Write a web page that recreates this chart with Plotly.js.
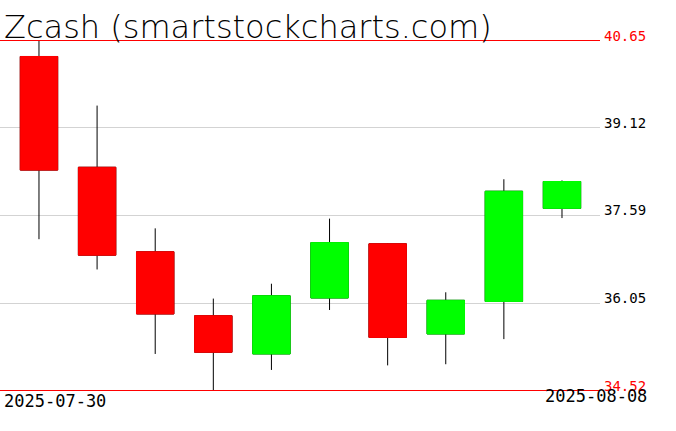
<!DOCTYPE html>
<html>
<head>
<meta charset="utf-8">
<script src="https://cdn.plot.ly/plotly-3.0.1.min.js"></script>
<style>html,body{margin:0;padding:0;background:#fff;}#chart{width:676px;height:431px;}</style>
</head>
<body>
<div id="chart"></div>
<script>
var dates = ["2025-07-30","2025-07-31","2025-08-01","2025-08-02","2025-08-03","2025-08-04","2025-08-05","2025-08-06","2025-08-07","2025-08-08"];
var openVals  = [40.37, 38.43, 36.95, 35.83, 35.16, 36.14, 37.09, 35.51, 36.08, 37.71];
var highVals  = [40.65, 39.51, 37.36, 36.13, 36.39, 37.53, 37.10, 36.24, 38.22, 38.20];
var lowVals   = [37.17, 36.64, 35.16, 34.52, 34.88, 35.93, 34.96, 34.98, 35.42, 37.54];
var closeVals = [38.38, 36.89, 35.86, 35.19, 36.18, 37.11, 35.45, 36.10, 38.01, 38.18];
var tickVals   = [34.52, 36.05, 37.59, 39.12, 40.65];
var tickLabels = ["34.52", "36.05", "37.59", "39.12", "40.65"];
var dateLabels = ["2025-07-30", "2025-08-08"];
var titleText = "Zcash (smartstockcharts.com)";

var bodyHigh = openVals.map(function(o, i){ return Math.max(o, closeVals[i]); });
var bodyLow  = openVals.map(function(o, i){ return Math.min(o, closeVals[i]); });

var wicks = {
  type: 'candlestick', x: dates, open: openVals, high: highVals, low: lowVals, close: closeVals,
  increasing: {line: {color: '#000', width: 1}, fillcolor: '#000'},
  decreasing: {line: {color: '#000', width: 1}, fillcolor: '#000'},
  whiskerwidth: 0, hoverinfo: 'skip', showlegend: false
};
var bodies = {
  type: 'candlestick', x: dates, open: openVals, high: bodyHigh, low: bodyLow, close: closeVals,
  increasing: {line: {color: '#00ff00', width: 1}, fillcolor: '#00ff00'},
  decreasing: {line: {color: '#ff0000', width: 1}, fillcolor: '#ff0000'},
  whiskerwidth: 0, hoverinfo: 'skip', showlegend: false
};

var W = 600, H = 351, T = 40;
var yMin = tickVals[0], yMax = tickVals[tickVals.length - 1];
var s = 350 / (yMax - yMin);
var r0 = yMin - 0.5 / s, r1 = yMax + 0.5 / s;
function py(pix){ return (T + H - pix) / H; }

var annotations = [];
tickVals.forEach(function(v, i){
  var edge = (i === 0 || i === tickVals.length - 1);
  annotations.push({
    xref: 'paper', yref: 'y', x: 1 + 3 / W, y: v, xanchor: 'left', yanchor: 'bottom', yshift: -4,
    text: tickLabels[i], showarrow: false, borderpad: 0,
    font: {family: 'DejaVu Sans Mono', size: 14, color: edge ? '#ff0000' : '#000'}
  });
});
annotations.push({
  xref: 'paper', yref: 'paper', x: 3 / W, y: py(401), xanchor: 'left', yanchor: 'middle',
  text: dateLabels[0], showarrow: false, borderpad: 0,
  font: {family: 'DejaVu Sans Mono', size: 17, color: '#000'}
});
annotations.push({
  xref: 'paper', yref: 'paper', x: 648 / W, y: py(396), xanchor: 'right', yanchor: 'middle',
  text: dateLabels[1], showarrow: false, borderpad: 0,
  font: {family: 'DejaVu Sans Mono', size: 17, color: '#000'}
});
annotations.push({
  xref: 'paper', yref: 'paper', x: 3 / W, y: py(27), xanchor: 'left', yanchor: 'middle',
  text: titleText, showarrow: false, borderpad: 0,
  font: {family: 'DejaVu Sans', weight: 200, size: 32, color: '#000'}
});

var layout = {
  width: 676, height: 431,
  margin: {l: 0, r: 76, t: T, b: 431 - T - H, pad: 0},
  paper_bgcolor: '#fff', plot_bgcolor: '#fff',
  showlegend: false, boxgap: 0.08,
  xaxis: {type: 'date', range: ['2025-07-29 07:54', '2025-08-08 15:42'], showticklabels: false,
          showgrid: false, zeroline: false, showline: false, ticks: '', rangeslider: {visible: false}, fixedrange: true},
  yaxis: {range: [r0, r1], tickvals: tickVals.slice(1, -1), showticklabels: false,
          showgrid: true, gridcolor: '#d3d3d3', gridwidth: 1, zeroline: false, showline: false, ticks: '', fixedrange: true},
  shapes: [
    {type: 'line', xref: 'paper', yref: 'y', x0: 0, x1: 1, y0: yMax, y1: yMax, line: {color: '#ff0000', width: 1}},
    {type: 'line', xref: 'paper', yref: 'y', x0: 0, x1: 1, y0: yMin, y1: yMin, line: {color: '#ff0000', width: 1}}
  ],
  annotations: annotations
};

Plotly.newPlot('chart', [wicks, bodies], layout, {staticPlot: true, displayModeBar: false});
</script>
</body>
</html>
